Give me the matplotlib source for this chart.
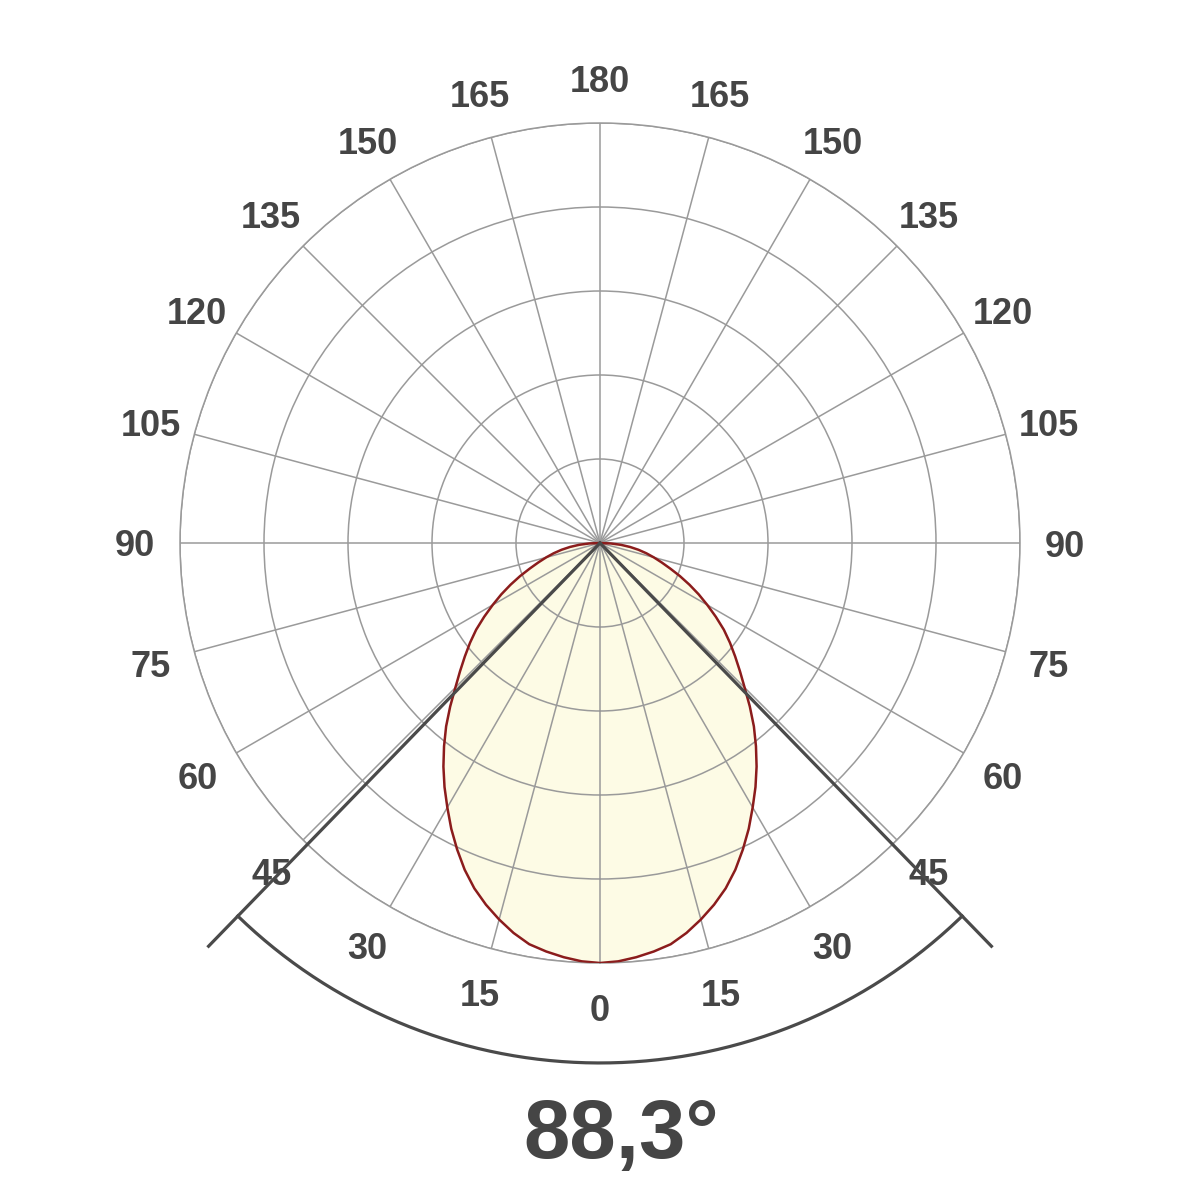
import numpy as np
import matplotlib
matplotlib.use("Agg")
import matplotlib.pyplot as plt
from matplotlib.transforms import ScaledTranslation

# luminous intensity (relative), gamma 0..90 deg
gamma = [0, 2.5, 5, 7.5, 10, 12.5, 15, 17.5, 20, 22.5, 25, 27.5, 30, 32.5, 35,
         37.5, 40, 42.5, 45, 47.5, 50, 52.5, 55, 57.5, 60, 62.5, 65, 67.5, 70,
         72.5, 75, 77.5, 80, 82.5, 85, 87.5, 90]
intensity = [1.00, 0.997, 0.99, 0.981, 0.97, 0.951, 0.928, 0.903, 0.875, 0.842,
             0.805, 0.767, 0.727, 0.689, 0.65, 0.61, 0.57, 0.528, 0.487, 0.452,
             0.42, 0.39, 0.36, 0.327, 0.295, 0.265, 0.235, 0.206, 0.178, 0.154,
             0.133, 0.113, 0.093, 0.072, 0.05, 0.026, 0.0]
beam_angle = 88.3
ring_values = [0.2, 0.4, 0.6, 0.8, 1.0]
label_angles = list(range(0, 181, 15))

TXT = "#454545"
GRID = "#9a9a9a"

plt.rcParams['font.family'] = ['Liberation Sans', 'DejaVu Sans']

fig = plt.figure(figsize=(12, 12), dpi=100)
ax = fig.add_axes([0.15, 0.1975, 0.7, 0.7], projection='polar')
ax.set_theta_zero_location('S')
ax.set_ylim(0, 1.0)

# mirror the half curve to both sides
g = np.array(gamma, dtype=float)
I = np.array(intensity)
th = np.deg2rad(np.concatenate([-g[::-1], g[1:]]))
rr = np.concatenate([I[::-1], I[1:]])

ax.fill(th, rr, color="#fdfbe5", zorder=1)
ax.plot(th, rr, color="#8b1c1c", lw=1.8, zorder=3, solid_joinstyle='round')

ax.set_thetagrids(np.arange(0, 360, 15), labels=[])
ax.set_rgrids(ring_values, labels=[])
ax.grid(True, color=GRID, lw=1.1)
ax.spines['polar'].set_color(GRID)
ax.spines['polar'].set_linewidth(1.1)
ax.tick_params(length=0)

# angle labels, both sides
shift = ax.transData + ScaledTranslation(0, -0.04, fig.dpi_scale_trans)
for a in label_angles:
    for s in (1, -1):
        if s == -1 and a in (0, 180):
            continue
        ax.text(np.deg2rad(s * a), 1.107, str(a), ha='center', va='center',
                fontsize=26, fontweight='bold', color=TXT, clip_on=False,
                transform=shift)

# beam angle lines and arc
half = np.deg2rad(beam_angle / 2)
for s in (1, -1):
    ax.plot([0, s * half], [0, 1.338], color="#4a4a4a", lw=2.3,
            clip_on=False, zorder=4)
arc_t = np.linspace(-half, half, 200)
ax.plot(arc_t, np.full_like(arc_t, 1.238), color="#4a4a4a", lw=2.3,
        clip_on=False, zorder=4)

fig.text(0.5175, 1 - 1136 / 1200, "88,3°", ha='center', va='center',
         fontsize=60, fontweight='bold', color=TXT)

fig.savefig("out.png", dpi=100, facecolor='white')
